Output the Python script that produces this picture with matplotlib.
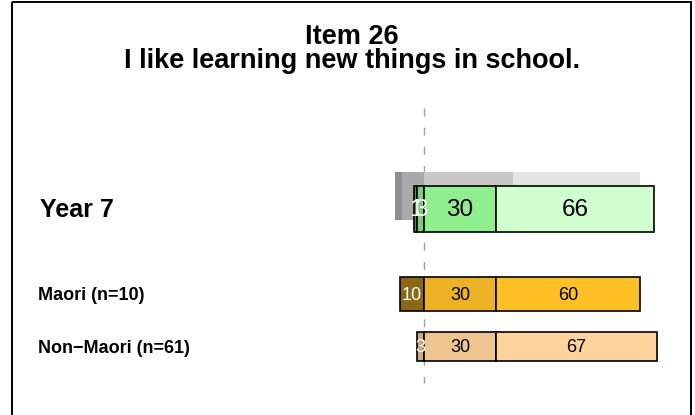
import matplotlib
matplotlib.use("Agg")
import matplotlib.pyplot as plt
from matplotlib.patches import Rectangle

plt.rcParams["font.family"] = ["Liberation Sans", "DejaVu Sans"]

# ── data ────────────────────────────────────────────────
title = "Item 26\nI like learning new things in school."
groups = ["Year 7", "Maori (n=10)", "Non\u2212Maori (n=61)"]
strongly_disagree = [1, 0, 0]
disagree = [3, 10, 3]
agree = [30, 30, 30]
strongly_agree = [66, 60, 67]

# comparison bar drawn behind Year 7
ref_vals = [3, 9, 37, 53]

# ── styles ──────────────────────────────────────────────
W, H = 695, 415
ZERO_PX, PX_PER_UNIT = 424, 2.4
colors = [["#548B54", "#7CCD7C", "#90EE90", "#CFFFCF"],
          ["#8B6914", "#8B6914", "#ECB125", "#FEC125"],
          ["#CDAA7D", "#CDAA7D", "#EEC591", "#FFD39B"]]
ref_colors = ["#8F8F8F", "#A9A9A9", "#C8C8C8", "#E4E4E4"]
bar_y = [209, 294, 346.5]
bar_h = [46, 34, 29]
num_size = [17.5, 13, 13]
label_size = [18, 13, 13]
label_x = [40, 38, 38]


def px(x):
    return (x - ZERO_PX) / PX_PER_UNIT


fig = plt.figure(figsize=(W / 100, H / 100), dpi=100)
ax = fig.add_axes([0, 0, 1, 1])
ax.set_xlim(px(0), px(W))
ax.set_ylim(H, 0)
ax.axis("off")

# outer frame
ax.add_patch(Rectangle((px(12), 2), (691 - 12) / PX_PER_UNIT, 600,
                       fill=False, ec="black", lw=1.4, zorder=1))

ax.text(px(352), 49, title, ha="center", va="center", fontsize=19.5,
        fontweight="bold", linespacing=0.95)

# reference (grey) bar behind Year 7
left = -(ref_vals[0] + ref_vals[1])
for v, c in zip(ref_vals, ref_colors):
    ax.barh(196, v, left=left, height=48, color=c, lw=0, zorder=2)
    left += v

# zero line
ax.plot([0, 0], [108, 383], color="#A0A0A0", lw=1, ls=(0, (5.8, 8)), zorder=1)

for i, g in enumerate(groups):
    vals = [strongly_disagree[i], disagree[i], agree[i], strongly_agree[i]]
    left = -(vals[0] + vals[1])
    for j, v in enumerate(vals):
        if v == 0:
            continue
        ax.barh(bar_y[i], v, left=left, height=bar_h[i], color=colors[i][j],
                ec="black", lw=1.2, zorder=3)
        tc = "white" if j < 2 else "black"
        ax.text(left + v / 2, bar_y[i] + 1, str(v), ha="center", va="center",
                color=tc, fontsize=num_size[i], zorder=4)
        left += v
    ax.text(px(label_x[i]), bar_y[i] + (1 if i == 0 else 1.5), g, ha="left",
            va="center", fontsize=label_size[i], fontweight="bold")

fig.savefig("out.png", dpi=100)
